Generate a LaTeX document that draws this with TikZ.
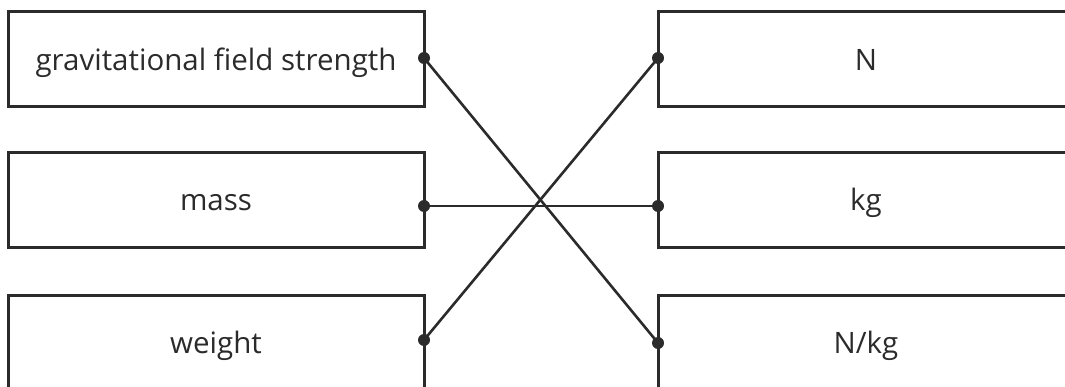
\documentclass[tikz,border=0pt]{standalone}
\usepackage{fontspec}
\setmainfont{Open Sans}
\definecolor{ink}{HTML}{2B2B2B}
\tikzset{
  box/.style={draw=ink, line width=3pt, minimum width=416pt, minimum height=95pt, inner sep=0pt, font=\fontsize{29.5}{34}\selectfont, text=ink, text height=22pt, text depth=0pt},
  link/.style={draw=ink, line width=2.6pt},
  dotc/.style={circle, fill=ink, inner sep=0pt, minimum size=12pt}
}
\begin{document}
\begin{tikzpicture}[x=1pt,y=-1pt]
\useasboundingbox (0,0) rectangle (1065,387);
\clip (0,0) rectangle (1065,387);
\node[box] (gfs) at (216,59.5) {gravitational field strength};
\node[box] (mass) at (216,200) {mass};
\node[box] (weight) at (216,342.5) {weight};
\node[box] (N) at (866,59.5) {N};
\node[box] (kg) at (866,200) {kg};
\node[box] (Nkg) at (866,342.5) {N/kg};
\coordinate (a1) at (424,58);
\coordinate (a2) at (424,206);
\coordinate (a3) at (424,340);
\coordinate (b1) at (658,58);
\coordinate (b2) at (658,206);
\coordinate (b3) at (658,343);
\draw[link] (a1) -- (b3);
\draw[link] (a2) -- (b2);
\draw[link] (a3) -- (b1);
\foreach \p in {a1,a2,a3,b1,b2,b3} \node[dotc] at (\p) {};
\end{tikzpicture}
\end{document}
